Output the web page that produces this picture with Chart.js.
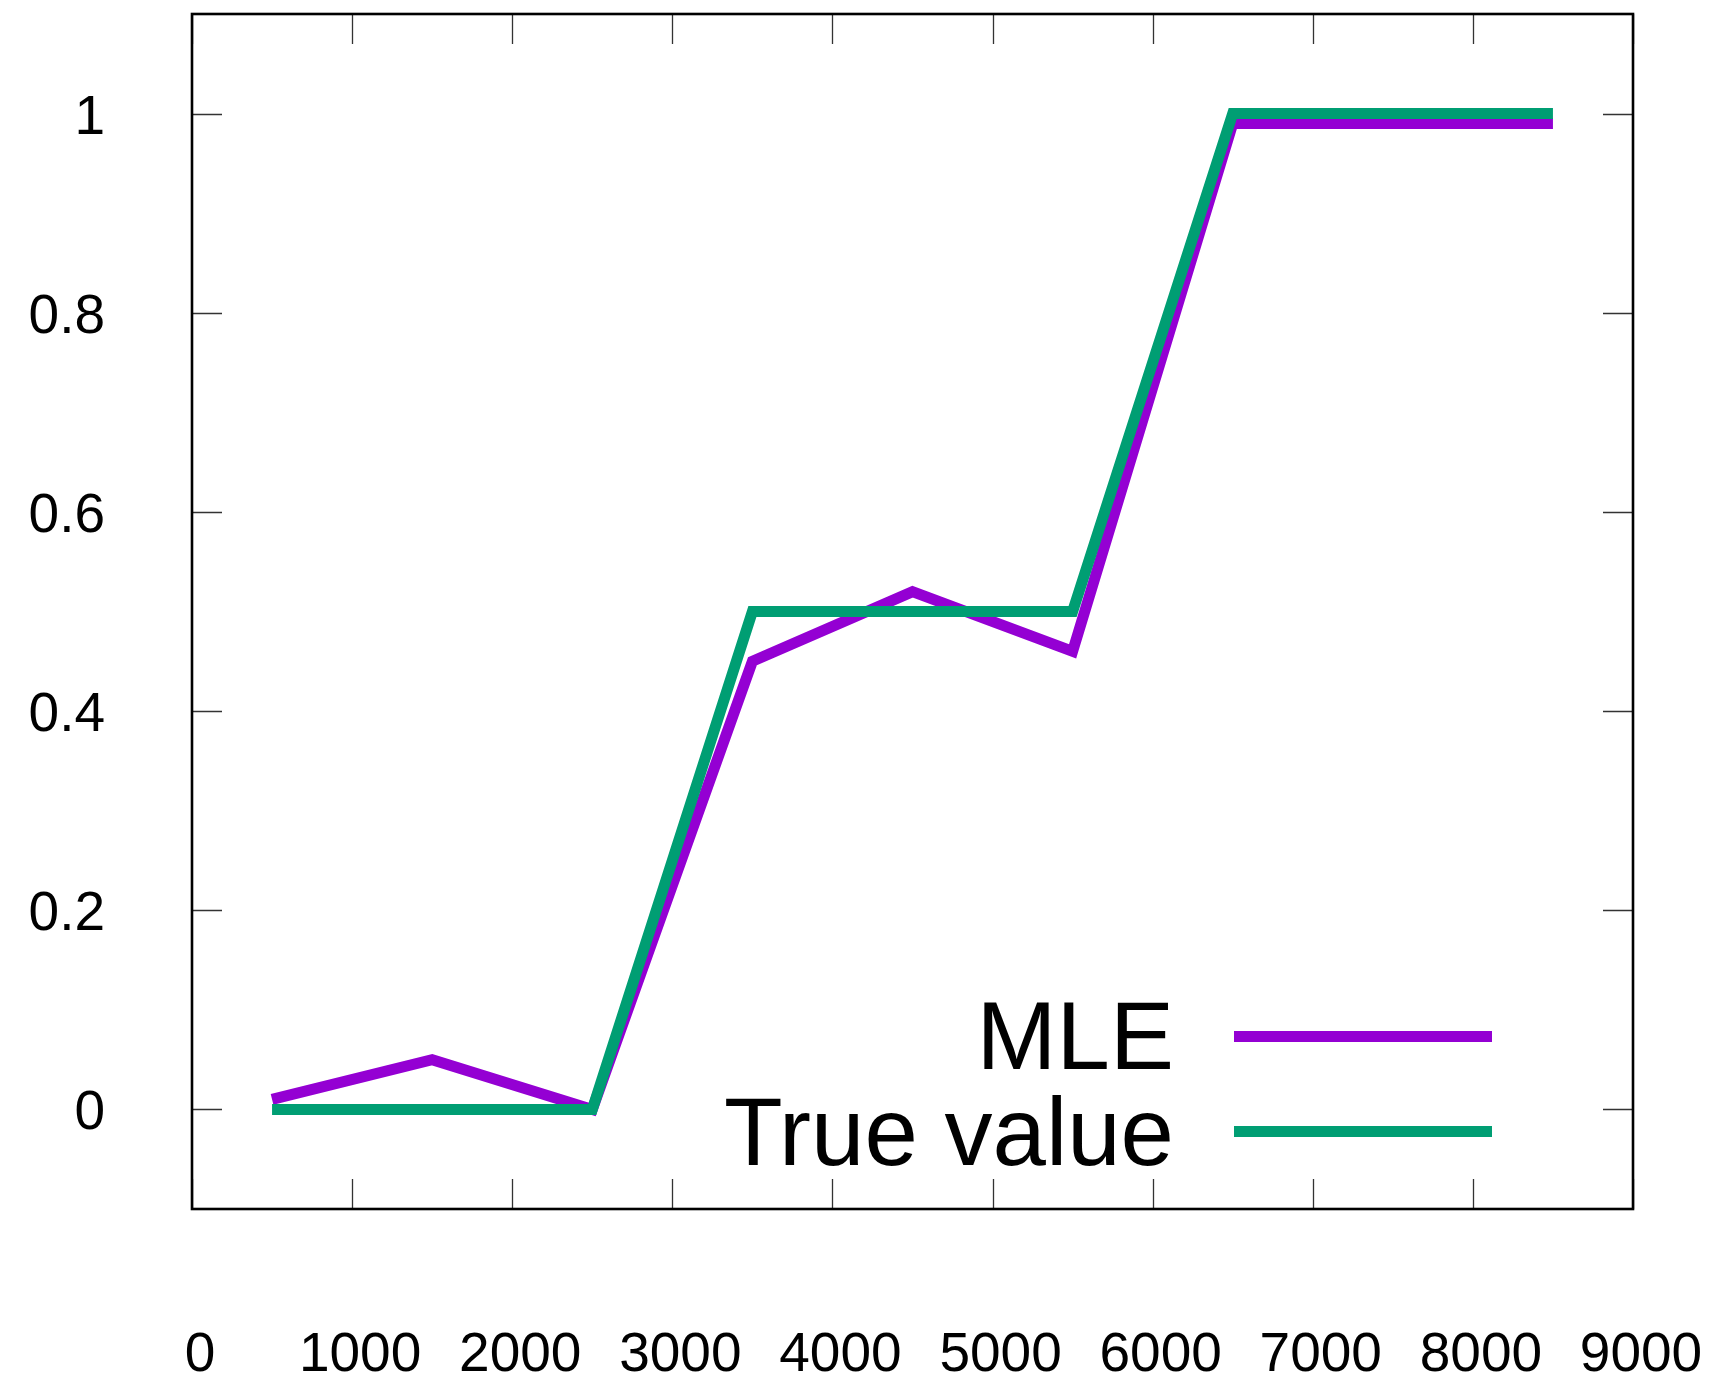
<!DOCTYPE html>
<html>
<head>
<meta charset="utf-8">
<style>
  html, body { margin: 0; padding: 0; background: #ffffff; }
  #wrap { width: 1711px; height: 1382px; position: relative; }
  canvas { display: block; }
</style>
<script src="https://cdn.jsdelivr.net/npm/chart.js@4/dist/chart.umd.min.js"></script>
</head>
<body>
<div id="wrap"><canvas id="c" width="1711" height="1382"></canvas></div>
<script>
// ---- data ----
const xValues   = [500, 1500, 2500, 3500, 4500, 5500, 6500, 7500, 8500];
const mleValues = [0.01, 0.05, 0.0, 0.45, 0.52, 0.46, 0.99, 0.99, 0.99];
const trueValues = [0, 0, 0, 0.5, 0.5, 0.5, 1, 1, 1];
const seriesNames = ['MLE', 'True value'];
const seriesColors = ['#9400D3', '#009E73'];

// ---- tick labels ----
const xTickValues = [0, 1000, 2000, 3000, 4000, 5000, 6000, 7000, 8000, 9000];
const xTickLabels = ['0', '1000', '2000', '3000', '4000', '5000', '6000', '7000', '8000', '9000'];
const yTickValues = [0, 0.2, 0.4, 0.6, 0.8, 1];
const yTickLabels = ['0', '0.2', '0.4', '0.6', '0.8', '1'];

const FONT = '"Liberation Sans", Arial, Helvetica, sans-serif';

const gnuplotFrame = {
  id: 'gnuplotFrame',
  afterDatasetsDraw(chart) {
    const ctx = chart.ctx;
    const a = chart.chartArea;
    const xs = chart.scales.x, ys = chart.scales.y;
    const tickLen = 30;
    ctx.save();
    // ticks (inward, mirrored)
    ctx.strokeStyle = '#333333';
    ctx.lineWidth = 1.3;
    ctx.beginPath();
    xTickValues.forEach(v => {
      const px = Math.round(xs.getPixelForValue(v)) + 0.5;
      ctx.moveTo(px, a.bottom); ctx.lineTo(px, a.bottom - tickLen);
      ctx.moveTo(px, a.top); ctx.lineTo(px, a.top + tickLen);
    });
    yTickValues.forEach(v => {
      const py = Math.round(ys.getPixelForValue(v)) + 0.5;
      ctx.moveTo(a.left, py); ctx.lineTo(a.left + tickLen, py);
      ctx.moveTo(a.right, py); ctx.lineTo(a.right - tickLen, py);
    });
    ctx.stroke();
    // border
    ctx.strokeStyle = '#000000';
    ctx.lineWidth = 2.6;
    ctx.strokeRect(a.left, a.top, a.right - a.left, a.bottom - a.top);

    // tick labels
    ctx.fillStyle = '#000000';
    ctx.font = '55px ' + FONT;
    ctx.textBaseline = 'alphabetic';
    ctx.textAlign = 'right';
    yTickValues.forEach((v, i) => {
      const py = ys.getPixelForValue(v);
      ctx.fillText(yTickLabels[i], 105, py + 20);
    });
    ctx.font = '55px ' + FONT;
    ctx.textAlign = 'center';
    xTickValues.forEach((v, i) => {
      const px = xs.getPixelForValue(v);
      ctx.fillText(xTickLabels[i], px + 8, 1371);
    });

    // legend (text right-aligned, sample line to the right)
    const legendRows = [
      { ds: 0, lineY: 1036.5, baseY: 1069 },
      { ds: 1, lineY: 1131.5, baseY: 1164.5 }
    ];
    ctx.font = '96px ' + FONT;
    ctx.textAlign = 'right';
    legendRows.forEach(r => {
      const d = chart.data.datasets[r.ds];
      ctx.fillStyle = '#000000';
      ctx.fillText(d.label, 1174, r.baseY);
      ctx.strokeStyle = d.borderColor;
      ctx.lineWidth = 11;
      ctx.lineCap = 'butt';
      ctx.beginPath();
      ctx.moveTo(1234, r.lineY);
      ctx.lineTo(1492, r.lineY);
      ctx.stroke();
    });
    ctx.restore();
  }
};

const toPoints = vals => xValues.map((x, i) => ({ x: x, y: vals[i] }));

new Chart(document.getElementById('c'), {
  type: 'line',
  data: {
    datasets: [
      {
        label: seriesNames[0],
        data: toPoints(mleValues),
        borderColor: seriesColors[0],
        backgroundColor: seriesColors[0],
        borderWidth: 11,
        pointRadius: 0,
        tension: 0,
        fill: false,
        order: 1
      },
      {
        label: seriesNames[1],
        data: toPoints(trueValues),
        borderColor: seriesColors[1],
        backgroundColor: seriesColors[1],
        borderWidth: 11,
        pointRadius: 0,
        tension: 0,
        fill: false,
        order: 0
      }
    ]
  },
  options: {
    responsive: false,
    animation: false,
    devicePixelRatio: 1,
    layout: { padding: { left: 192, right: 78, top: 14, bottom: 173 } },
    plugins: { legend: { display: false }, tooltip: { enabled: false } },
    scales: {
      x: { type: 'linear', min: 0, max: 9000, display: false },
      y: { type: 'linear', min: -0.1, max: 1.1, display: false }
    }
  },
  plugins: [gnuplotFrame]
});
</script>
</body>
</html>
